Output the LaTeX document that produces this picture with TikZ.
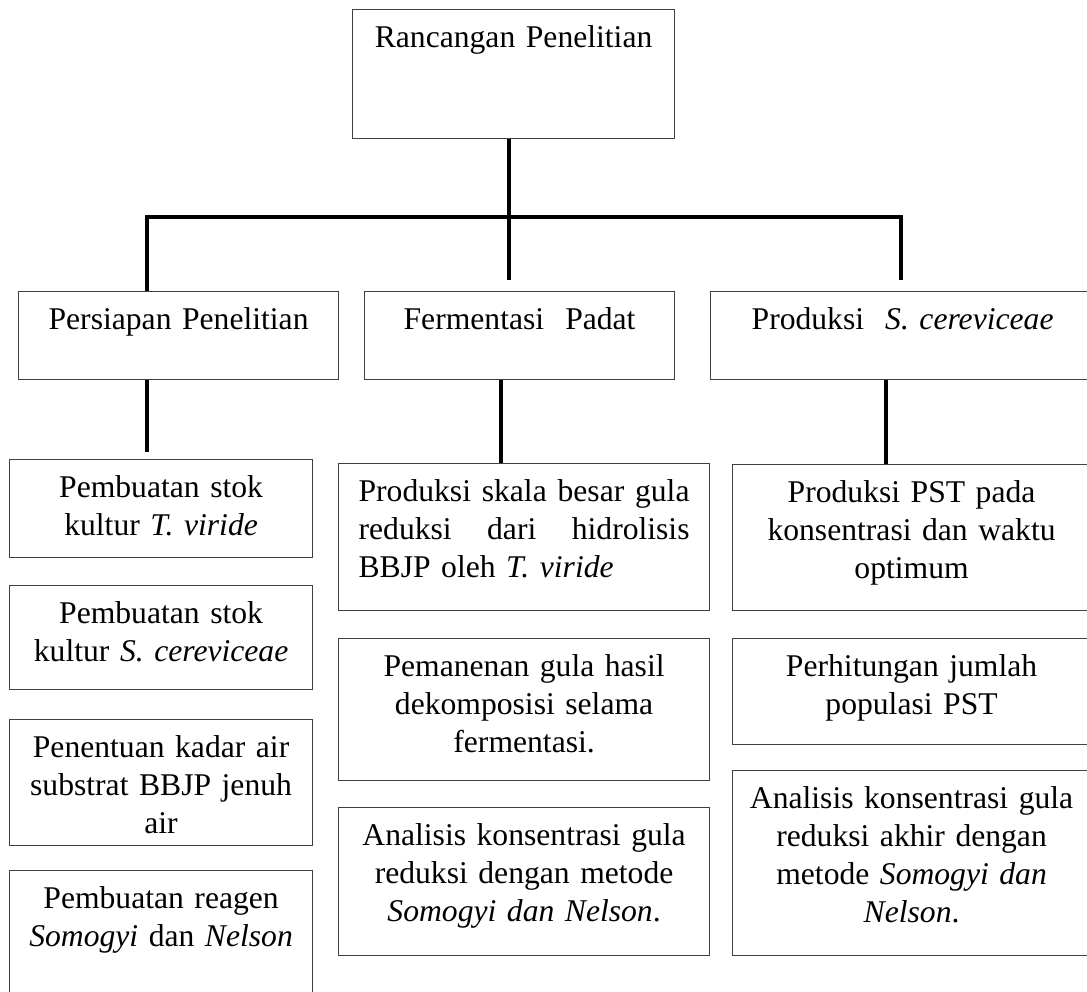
\documentclass[tikz,border=0pt]{standalone}
\usepackage{fontspec}
\setmainfont{Liberation Serif}
\usetikzlibrary{calc}

\begin{document}
\begin{tikzpicture}[x=0.02cm,y=-0.02cm,
  font=\fontsize{18}{21.6}\selectfont,
  box/.style={draw=black!75,line width=0.7pt,fill=white,align=center,anchor=north west,
    inner xsep=0.2cm,inner ysep=0.2cm,text height=0.56cm},
  link/.style={line width=2.3pt,line join=miter}]
  \clip (0,0) rectangle (1087,991);
  \fill[white] (0,0) rectangle (1087,991);
  \node[box,text width=6.04cm,text depth=1.62cm] (top) at (352,9) {Rancangan Penelitian};
  \node[box,text width=6.0cm,text depth=0.8cm] (persiapan) at (18,291) {Persiapan Penelitian};
  \node[box,text width=5.8cm,text depth=0.8cm] (fermentasi) at (364,291) {Fermentasi\ \ Padat};
  \node[box,text width=7.28cm,text depth=0.8cm] (produksi) at (710,291) {Produksi\ \ \textit{S. cereviceae}};
  \node[box,text width=5.66cm,text depth=1.0cm] (stokT) at (9,459) {Pembuatan stok\\kultur \textit{T. viride}};
  \node[box,text width=5.66cm,text depth=1.12cm] (stokS) at (9,585) {Pembuatan stok\\kultur \textit{S. cereviceae}};
  \node[box,text width=5.66cm,text depth=1.56cm] (kadar) at (9,719) {Penentuan kadar air\\substrat BBJP jenuh\\air};
  \node[box,text width=5.66cm,text depth=1.84cm] (reagen) at (9,870) {Pembuatan reagen\\\textit{Somogyi} dan \textit{Nelson}};
  \node[box,align=left,inner xsep=0.4cm,text width=6.62cm,text depth=1.98cm] (skala) at (338,463)
    {Produksi\hfill skala\hfill besar\hfill gula\\reduksi\hfill dari\hfill hidrolisis\\BBJP oleh \textit{T. viride}};
  \node[box,text width=7.02cm,text depth=1.88cm] (panen) at (338,638) {Pemanenan gula hasil\\dekomposisi selama\\fermentasi.};
  \node[box,text width=7.02cm,text depth=2.0cm] (analisisF) at (338,807) {Analisis konsentrasi gula\\reduksi dengan metode\\\textit{Somogyi dan Nelson}.};
  \node[box,text width=6.76cm,text depth=1.96cm] (pst) at (732,464) {Produksi PST pada\\konsentrasi dan waktu\\optimum};
  \node[box,text width=6.76cm,text depth=1.16cm] (populasi) at (732,638) {Perhitungan jumlah\\populasi PST};
  \node[box,text width=6.76cm,text depth=2.74cm] (analisisP) at (732,770) {Analisis konsentrasi gula\\reduksi akhir dengan\\metode \textit{Somogyi dan}\\\textit{Nelson}.};
  \coordinate (barL) at (147,217);
  \coordinate (barM) at (509,217);
  \coordinate (barR) at (901,217);
  \draw[link] (top.south -| barM) -- ([yshift=0.22cm]fermentasi.north -| barM);
  \draw[link] (persiapan.north -| barL) |- (barR) -- ([yshift=0.22cm]produksi.north -| barR);
  \draw[link] (persiapan.south -| barL) -- ([yshift=0.14cm]stokT.north -| barL);
  \draw[link] ([xshift=-0.38cm]fermentasi.south) -- ([xshift=-0.38cm]fermentasi.south |- skala.north);
  \draw[link] ([xshift=-0.34cm]produksi.south) -- ([xshift=-0.34cm]produksi.south |- pst.north);
\end{tikzpicture}
\end{document}
